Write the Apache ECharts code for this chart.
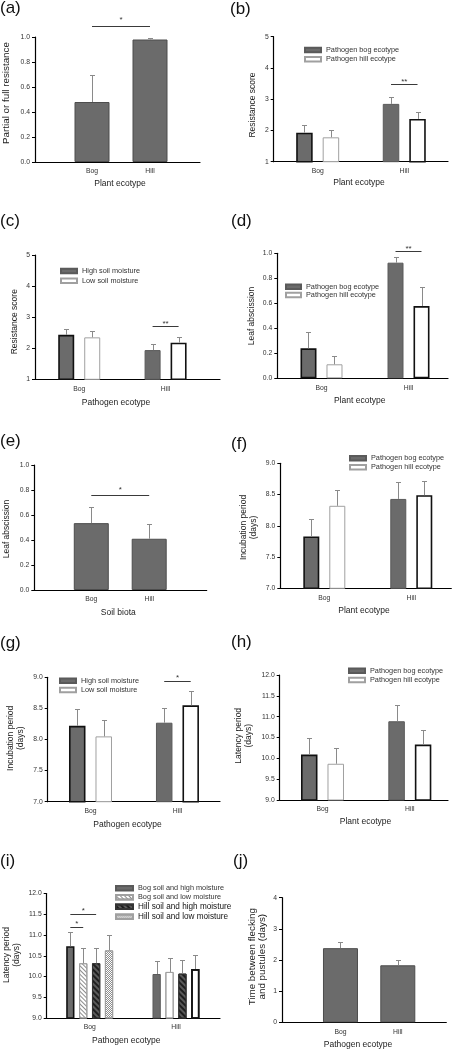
<!DOCTYPE html>
<html><head><meta charset="utf-8">
<script src="https://cdn.jsdelivr.net/npm/echarts@6/dist/echarts.min.js"></script>
<style>
html,body{margin:0;padding:0;background:#fff;}
body{width:456px;height:1050px;position:relative;overflow:hidden;}
.p{position:absolute;}
</style></head><body>
<script>
// ---------------- DATA ----------------
const ecotypes = ['Bog', 'Hill'];
const legPathogen = ['Pathogen bog ecotype', 'Pathogen hill ecotype'];
const legMoisture = ['High soil moisture', 'Low soil moisture'];
const legSoil = ['Bog soil and high moisture', 'Bog soil and low moisture', 'Hill soil and high moisture', 'Hill soil and low moisture'];

// tick labels
const ticksProportion = ['0.0', '0.2', '0.4', '0.6', '0.8', '1.0'];
const ticksScore = ['1', '2', '3', '4', '5'];
const ticksIncub = ['7.0', '7.5', '8.0', '8.5', '9.0'];
const ticksLatency = ['9.0', '9.5', '10.0', '10.5', '11.0', '11.5', '12.0'];
const ticksDays = ['0', '1', '2', '3', '4'];

// (a) partial or full resistance
const aResist = [0.48, 0.98];
const aResistErr = [0.70, 0.995];
const aSig = [{ from: [0, 0], to: [1, 0], y: 1.088, mark: '*' }];
// (b) resistance score by plant ecotype
const bPathBog = [1.93, 2.85];
const bPathBogErr = [2.19, 3.08];
const bPathHill = [1.78, 2.37];
const bPathHillErr = [2.03, 2.58];
const bSig = [{ from: [1, 0], to: [1, 1], y: 3.5, mark: '**' }];
// (c) resistance score by pathogen ecotype
const cHighMoist = [2.43, 1.94];
const cHighMoistErr = [2.63, 2.14];
const cLowMoist = [2.35, 2.18];
const cLowMoistErr = [2.55, 2.36];
const cSig = [{ from: [1, 0], to: [1, 1], y: 2.71, mark: '**' }];
// (d) leaf abscission by plant ecotype
const dPathBog = [0.24, 0.925];
const dPathBogErr = [0.373, 0.973];
const dPathHill = [0.112, 0.578];
const dPathHillErr = [0.18, 0.733];
const dSig = [{ from: [1, 0], to: [1, 1], y: 1.02, mark: '**' }];
// (e) leaf abscission by soil biota
const eAbsc = [0.535, 0.41];
const eAbscErr = [0.665, 0.53];
const eSig = [{ from: [0, 0], to: [1, 0], y: 0.76, mark: '*' }];
// (f) incubation period by plant ecotype
const fPathBog = [7.83, 8.43];
const fPathBogErr = [8.11, 8.70];
const fPathHill = [8.32, 8.49];
const fPathHillErr = [8.57, 8.72];
// (g) incubation period by pathogen ecotype
const gHighMoist = [8.22, 8.27];
const gHighMoistErr = [8.49, 8.51];
const gLowMoist = [8.05, 8.55];
const gLowMoistErr = [8.32, 8.78];
const gSig = [{ from: [1, 0], to: [1, 1], y: 8.94, mark: '*' }];
// (h) latency period by plant ecotype
const hPathBog = [10.09, 10.89];
const hPathBogErr = [10.50, 11.28];
const hPathHill = [9.87, 10.33];
const hPathHillErr = [10.26, 10.67];
// (i) latency period by pathogen ecotype, soil x moisture
const iBogHigh = [10.73, 10.06];
const iBogHighErr = [11.08, 10.38];
const iBogLow = [10.32, 10.11];
const iBogLowErr = [10.68, 10.44];
const iHillHigh = [10.32, 10.07];
const iHillHighErr = [10.68, 10.40];
const iHillLow = [10.63, 10.18];
const iHillLowErr = [11.00, 10.51];
const iSig = [{ from: [0, 0], to: [0, 2], y: 11.5, mark: '*' }, { from: [0, 0], to: [0, 1], y: 11.2, mark: '*' }];
// (j) time between flecking and pustules
const jTime = [2.38, 1.83];
const jTimeErr = [2.58, 2.01];

// ---------------- STYLES ----------------
const FONT = '"Liberation Sans", Arial, Helvetica, sans-serif';
const DARK = { color: '#6b6b6b', borderColor: '#5a5a5a', borderWidth: 1 };
const WHITE = { color: '#ffffff', borderColor: '#a0a0a0', borderWidth: 1 };
const SINGLE = { color: '#6b6b6b', borderColor: '#4d4d4d', borderWidth: 1 };
const BLACKEDGE = { borderColor: '#111', borderWidth: 1.6 };
const lightHatch = { symbol: 'rect', symbolSize: 1, color: '#8c8c8c', dashArrayX: [1, 0], dashArrayY: [1, 2], rotation: Math.PI / 4 };
const darkHatch = { symbol: 'rect', symbolSize: 1, color: '#1e1e1e', dashArrayX: [1, 0], dashArrayY: [1.5, 1.5], rotation: Math.PI / 4 };
const crossHatch = { symbol: 'rect', symbolSize: 1, color: '#8e8e8e', dashArrayX: [[1, 1], [0, 1, 1, 0]], dashArrayY: [1, 0], rotation: 0 };
const blankDecal = { symbol: 'rect', symbolSize: 1, color: 'rgba(255,255,255,0)', dashArrayX: [1, 0], dashArrayY: [1, 3] };

function pairSeries(names, v0, e0, v1, e1) {
  return [
    { name: names[0], values: v0, err: e0, style: DARK, items: [BLACKEDGE, null] },
    { name: names[1], values: v1, err: e1, style: WHITE, items: [null, BLACKEDGE] }
  ];
}

function tickCfg(ticks) {
  const vals = ticks.map(Number);
  return {
    min: vals[0], max: vals[vals.length - 1], interval: +(vals[1] - vals[0]).toFixed(6),
    fmt: v => { const i = vals.findIndex(t => Math.abs(t - v) < 1e-6); return i >= 0 ? ticks[i] : ''; }
  };
}

function build(P, L) {
  const div = document.createElement('div');
  div.className = 'p';
  div.style.left = L.div[0] + 'px'; div.style.top = L.div[1] + 'px';
  div.style.width = L.div[2] + 'px'; div.style.height = L.div[3] + 'px';
  document.body.appendChild(div);
  const chart = echarts.init(div, null, { renderer: 'canvas' });
  const n = P.series.length;
  const w = L.bw, g = L.gap || 0;
  const offs = P.series.map((s, k) => (k - (n - 1) / 2) * (w + g));
  const tc = tickCfg(P.ticks);
  const series = [];
  P.series.forEach((s, k) => {
    series.push({
      type: 'bar', name: s.name, barWidth: w, barGap: (g / w * 100) + '%',
      itemStyle: s.style, animation: false, silent: true, z: 2,
      data: s.values.map((v, i) => {
        const it = s.items && s.items[i];
        return it ? { value: [i, v], itemStyle: it } : { value: [i, v] };
      })
    });
  });
  P.series.forEach((s, k) => {
    series.push({
      type: 'custom', name: 'err' + k, animation: false, silent: true, clip: false, z: 3,
      data: s.values.map((v, i) => [i, v, s.err[i]]),
      renderItem: (params, api) => {
        const a = api.coord([api.value(0), api.value(1)]);
        const b = api.coord([api.value(0), api.value(2)]);
        const x = Math.round(a[0] + offs[k]) + 0.5;
        const y2 = Math.round(b[1]) + 0.5;
        return {
          type: 'group', children: [
            { type: 'line', shape: { x1: x, y1: a[1], x2: x, y2: y2 }, style: { stroke: '#8a8a8a', lineWidth: 1 } },
            { type: 'line', shape: { x1: x - 2.5, y1: y2, x2: x + 2.5, y2: y2 }, style: { stroke: '#8a8a8a', lineWidth: 1 } }
          ]
        };
      }
    });
  });
  if (P.sig) {
    series.push({
      type: 'custom', name: 'sig', animation: false, silent: true, clip: false, z: 4,
      data: P.sig.map(s => [s.from[0], s.y, s.to[0]]),
      renderItem: (params, api) => {
        const s = P.sig[params.dataIndex];
        const p1 = api.coord([api.value(0), api.value(1)]);
        const p2 = api.coord([api.value(2), api.value(1)]);
        const x1 = p1[0] + offs[s.from[1]], x2 = p2[0] + offs[s.to[1]];
        const y = Math.round(p1[1]) + 0.5;
        return {
          type: 'group', children: [
            { type: 'line', shape: { x1: x1, y1: y, x2: x2, y2: y }, style: { stroke: '#3a3a3a', lineWidth: 1 } },
            { type: 'text', x: (x1 + x2) / 2, y: y - L.starDy, style: { text: s.mark, fontSize: 8, fontFamily: FONT, fill: '#333', align: 'center', verticalAlign: 'middle' } }
          ]
        };
      }
    });
  }
  const yFont = L.yFont || 8.5;
  const graphic = [
    { type: 'text', x: L.label[0], y: L.label[1], silent: true, style: { text: P.label, fontSize: 17, fontFamily: FONT, fill: '#111', align: 'left', verticalAlign: 'top' } },
    { type: 'text', x: L.xt[0], y: L.xt[1], silent: true, style: { text: P.xTitle, fontSize: 8.5, fontFamily: FONT, fill: '#222', align: 'center', verticalAlign: 'middle' } },
    { type: 'text', x: L.yt[0], y: L.yt[1], rotation: Math.PI / 2, silent: true, style: { text: P.yTitle, fontSize: yFont, lineHeight: 10, fontFamily: FONT, fill: '#222', align: 'center', verticalAlign: 'middle' } }
  ];
  const option = {
    animation: false,
    backgroundColor: 'transparent',
    textStyle: { fontFamily: FONT },
    grid: { left: L.grid[0], top: L.grid[1], width: L.grid[2], height: L.grid[3], containLabel: false, outerBoundsMode: 'none' },
    xAxis: {
      type: 'value', min: L.xr[0], max: L.xr[1], splitLine: { show: false }, axisTick: { show: false },
      axisLine: { show: true, onZero: false, lineStyle: { color: '#000', width: 1.2 } },
      axisLabel: { customValues: ecotypes.map((c, i) => i), formatter: v => ecotypes[Math.round(v)] || '', fontSize: 6.8, fontFamily: FONT, color: '#333', margin: 6 }
    },
    yAxis: {
      type: 'value', min: tc.min, max: tc.max, interval: tc.interval, splitLine: { show: false },
      axisLine: { show: true, onZero: false, lineStyle: { color: '#000', width: 1.2 } },
      axisTick: { show: true, length: 3, lineStyle: { color: '#000', width: 1 } },
      axisLabel: { formatter: tc.fmt, fontSize: 6.8, fontFamily: FONT, color: '#333', margin: 5 }
    },
    legend: P.legend ? {
      orient: 'vertical', left: L.legend[0], top: L.legend[1], itemWidth: L.legend[2], itemHeight: 4.5, itemGap: L.legend[3],
      padding: 0, icon: 'rect', selectedMode: false,
      textStyle: { fontSize: 7.3, fontFamily: FONT, color: '#333', lineHeight: 9 },
      data: P.series.map((s, k) => (P.legendText && P.legendText[k]) ? { name: s.name, textStyle: P.legendText[k] } : { name: s.name })
    } : { show: false },
    series: series,
    graphic: graphic
  };
  chart.setOption(option);
}

// ---------------- PANELS ----------------
const panels = [
  [{ label: '(a)', ticks: ticksProportion, xTitle: 'Plant ecotype', yTitle: 'Partial or full resistance', sig: aSig,
     series: [{ name: 'resist', values: aResist, err: aResistErr, style: SINGLE }] },
   { div: [0, 0, 228, 200], grid: [35, 37, 165, 125], xr: [-0.983, 1.862], bw: 35, label: [0, 0], xt: [120, 184], yt: [6.7, 93], starDy: 6.5, yFont: 9.8 }],
  [{ label: '(b)', ticks: ticksScore, xTitle: 'Plant ecotype', yTitle: 'Resistance score', sig: bSig, legend: true,
     series: pairSeries(legPathogen, bPathBog, bPathBogErr, bPathHill, bPathHillErr) },
   { div: [228, 0, 228, 200], grid: [45.7, 36.7, 174.3, 125], xr: [-0.508, 1.505], bw: 16.5, gap: 10, label: [2, 1], xt: [131, 183], yt: [25, 105], starDy: 3, legend: [76, 45.5, 16, 0.3] }],
  [{ label: '(c)', ticks: ticksScore, xTitle: 'Pathogen ecotype', yTitle: 'Resistance score', sig: cSig, legend: true,
     series: pairSeries(legMoisture, cHighMoist, cHighMoistErr, cLowMoist, cLowMoistErr) },
   { div: [0, 200, 228, 210], grid: [35, 55, 185, 124.3], xr: [-0.512, 1.63], bw: 16, gap: 10, label: [0, 13], xt: [116, 202.3], yt: [15, 121.7], starDy: 3, legend: [60, 66.5, 16, 0.7] }],
  [{ label: '(d)', ticks: ticksProportion, xTitle: 'Plant ecotype', yTitle: 'Leaf abscission', sig: dSig, legend: true,
     series: pairSeries(legPathogen, dPathBog, dPathBogErr, dPathHill, dPathHillErr) },
   { div: [228, 200, 228, 210], grid: [49.3, 53.3, 170.7, 125], xr: [-0.508, 1.454], bw: 16, gap: 10, label: [3, 13], xt: [131.7, 200.7], yt: [24, 116], starDy: 3, legend: [57, 82.2, 15, -0.7] }],
  [{ label: '(e)', ticks: ticksProportion, xTitle: 'Soil biota', yTitle: 'Leaf abscission', sig: eSig,
     series: [{ name: 'absc', values: eAbsc, err: eAbscErr, style: SINGLE }] },
   { div: [0, 410, 228, 210], grid: [34.3, 55, 172.4, 125], xr: [-0.984, 1.993], bw: 35, label: [0, 23], xt: [118.3, 202.3], yt: [6.7, 119], starDy: 6 }],
  [{ label: '(f)', ticks: ticksIncub, xTitle: 'Plant ecotype', yTitle: 'Incubation period\n(days)', legend: true,
     series: pairSeries(legPathogen, fPathBog, fPathBogErr, fPathHill, fPathHillErr) },
   { div: [228, 410, 228, 210], grid: [52.3, 53.3, 171, 125], xr: [-0.506, 1.46], bw: 16, gap: 10, label: [3, 26], xt: [136, 200.7], yt: [20.3, 117.5], starDy: 3, legend: [121, 43.8, 16, 0] }],
  [{ label: '(g)', ticks: ticksIncub, xTitle: 'Pathogen ecotype', yTitle: 'Incubation period\n(days)', sig: gSig, legend: true,
     series: pairSeries(legMoisture, gHighMoist, gHighMoistErr, gLowMoist, gLowMoistErr) },
   { div: [0, 620, 228, 210], grid: [47.7, 57.3, 172.3, 124.4], xr: [-0.492, 1.489], bw: 16.5, gap: 10, label: [0, 15], xt: [127.5, 204.3], yt: [15.7, 118.3], starDy: 3.5, legend: [59, 56.2, 16, 0.3] }],
  [{ label: '(h)', ticks: ticksLatency, xTitle: 'Plant ecotype', yTitle: 'Latency period\n(days)', legend: true,
     series: pairSeries(legPathogen, hPathBog, hPathBogErr, hPathHill, hPathHillErr) },
   { div: [228, 620, 228, 210], grid: [51.7, 55, 168.3, 125], xr: [-0.49, 1.437], bw: 16.5, gap: 10, label: [3, 14], xt: [137.5, 201.7], yt: [15.7, 115.8], starDy: 3, legend: [120, 46.2, 16, 0.3] }],
  [{ label: '(i)', ticks: ticksLatency, xTitle: 'Pathogen ecotype', yTitle: 'Latency period\n(days)', sig: iSig, legend: true,
     legendText: [null, null, { fontSize: 8.2, color: '#111', lineHeight: 10 }, { fontSize: 8.2, color: '#111', lineHeight: 10 }],
     series: [
       { name: legSoil[0], values: iBogHigh, err: iBogHighErr, style: DARK, items: [BLACKEDGE, null] },
       { name: legSoil[1], values: iBogLow, err: iBogLowErr, style: Object.assign({}, WHITE, { decal: lightHatch }), items: [null, { decal: blankDecal }] },
       { name: legSoil[2], values: iHillHigh, err: iHillHighErr, style: { color: '#5a5a5a', borderColor: '#333', borderWidth: 1, decal: darkHatch } },
       { name: legSoil[3], values: iHillLow, err: iHillLowErr, style: Object.assign({}, WHITE, { decal: crossHatch }), items: [null, { decal: blankDecal, borderColor: '#111', borderWidth: 1.6 }] }
     ] },
   { div: [0, 830, 240, 220], grid: [46.7, 63.5, 173.3, 124.5], xr: [-0.498, 1.51], bw: 8.3, gap: 4.6, label: [0, 23], xt: [126.3, 210.7], yt: [11.3, 125], starDy: 3.5, legend: [115, 53.8, 17, 0] }],
  [{ label: '(j)', ticks: ticksDays, xTitle: 'Pathogen ecotype', yTitle: 'Time between flecking\nand pustules (days)',
     series: [{ name: 'time', values: jTime, err: jTimeErr, style: SINGLE }] },
   { div: [228, 830, 228, 220], grid: [54, 67.7, 164.3, 124.6], xr: [-1.02, 1.846], bw: 35, label: [5, 23], xt: [130, 215], yt: [28.8, 126.7], yFont: 9.8 }]
];

panels.forEach(p => build(p[0], p[1]));
</script>
</body></html>
